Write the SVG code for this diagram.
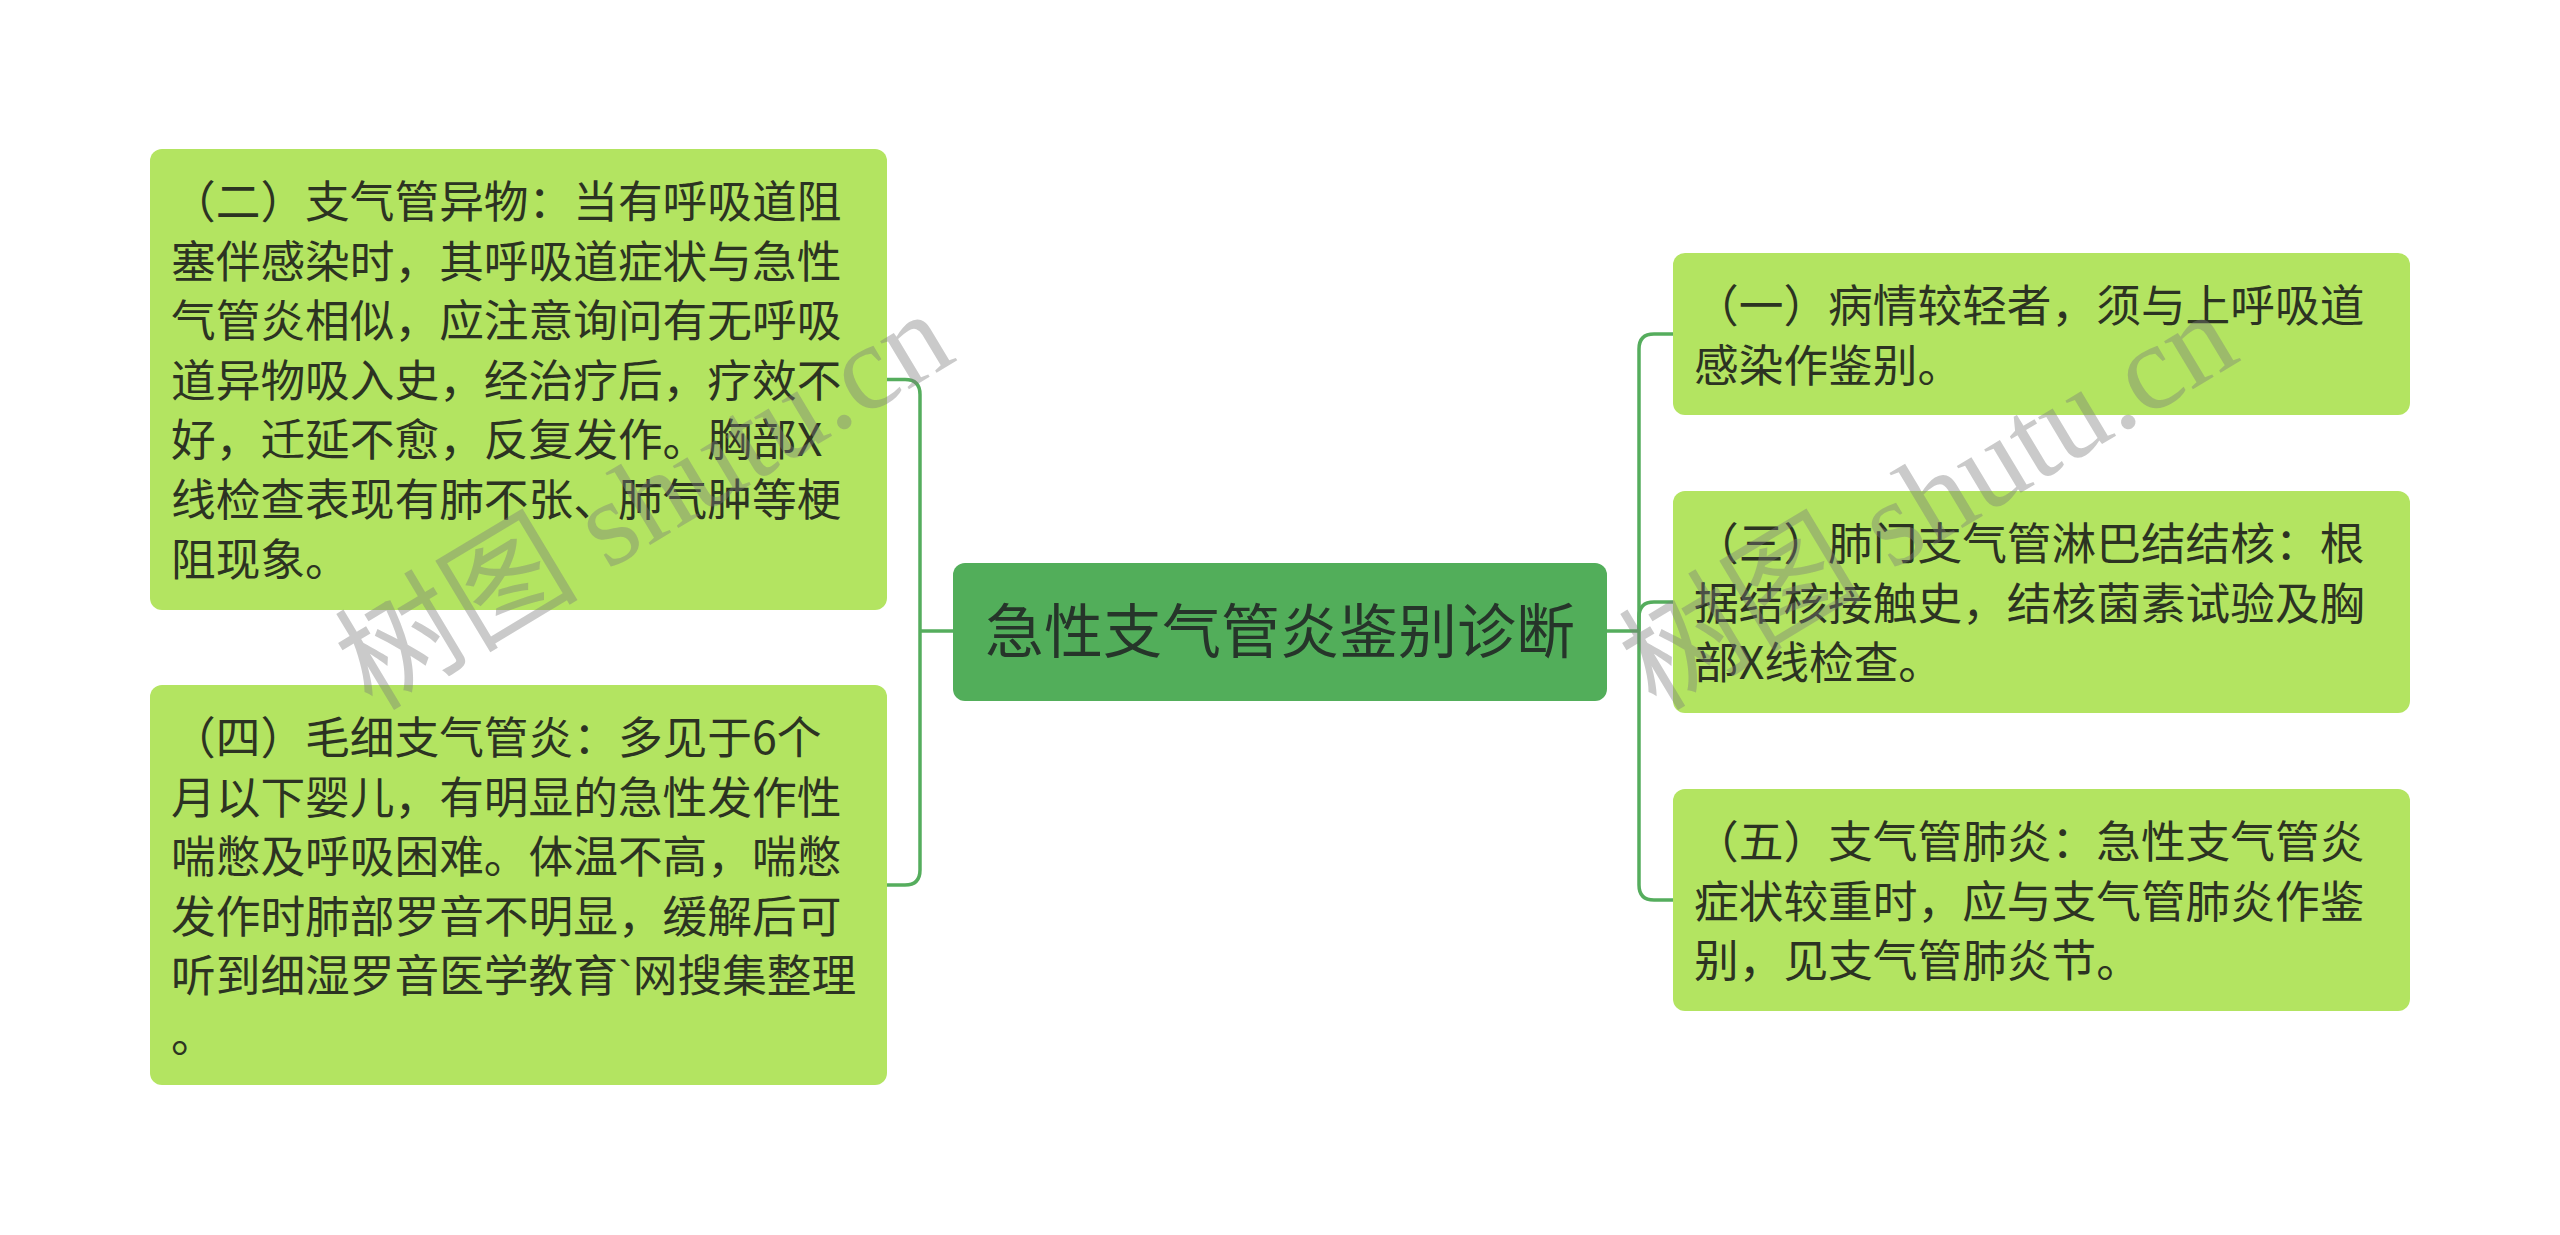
<svg xmlns="http://www.w3.org/2000/svg" width="2560" height="1235" viewBox="0 0 2560 1235">
<style>
.leaf{fill:#b3e461;}
.root{fill:#52ae5a;}
.lt{font-family:"Noto Sans CJK SC","Noto Sans",sans-serif;font-size:44.7px;fill:#2c3322;}
.rt{font-family:"Noto Sans CJK SC","Noto Sans",sans-serif;font-size:59px;fill:#26352a;}
.conn{fill:none;stroke:#55ad5d;stroke-width:3.5;}
.wm{font-family:"Liberation Serif","Noto Sans CJK SC",serif;font-size:122px;fill:#7a7a7a;fill-opacity:0.4;}
.bt{font-family:"Liberation Sans",sans-serif;}
</style>
<rect width="2560" height="1235" fill="#ffffff"/>
<g id="connectors">
<path class="conn" d="M953 631 H920"/>
<path class="conn" d="M920 631 V394.5 Q920 379.5 905 379.5 H887"/>
<path class="conn" d="M920 631 V870 Q920 885 905 885 H887"/>
<path class="conn" d="M1607 631 H1639"/>
<path class="conn" d="M1639 631 V349 Q1639 334 1654 334 H1673"/>
<path class="conn" d="M1639 631 V617 Q1639 602 1654 602 H1673"/>
<path class="conn" d="M1639 631 V885 Q1639 900 1654 900 H1673"/>
</g>
<g id="root">
<rect class="root" x="953" y="563" width="654" height="138" rx="12"/>
<text class="rt" x="1280" y="653" text-anchor="middle">急性支气管炎鉴别诊断</text>
</g>
<g id="node-2">
<rect class="leaf" x="150" y="149" width="737" height="461" rx="12"/>
<text class="lt" x="171" y="218">
<tspan x="171">（二）支气管异物：当有呼吸道阻</tspan>
<tspan x="171" dy="59.6">塞伴感染时，其呼吸道症状与急性</tspan>
<tspan x="171" dy="59.6">气管炎相似，应注意询问有无呼吸</tspan>
<tspan x="171" dy="59.6">道异物吸入史，经治疗后，疗效不</tspan>
<tspan x="171" dy="59.6">好，迁延不愈，反复发作。胸部X</tspan>
<tspan x="171" dy="59.6">线检查表现有肺不张、肺气肿等梗</tspan>
<tspan x="171" dy="59.6">阻现象。</tspan>
</text>
</g>
<g id="node-4">
<rect class="leaf" x="150" y="685" width="737" height="400" rx="12"/>
<text class="lt" x="171" y="754">
<tspan x="171">（四）毛细支气管炎：多见于6个</tspan>
<tspan x="171" dy="59.6">月以下婴儿，有明显的急性发作性</tspan>
<tspan x="171" dy="59.6">喘憋及呼吸困难。体温不高，喘憋</tspan>
<tspan x="171" dy="59.6">发作时肺部罗音不明显，缓解后可</tspan>
<tspan x="171" dy="59.6">听到细湿罗音医学教育<tspan class="bt">`</tspan>网搜集整理</tspan>
<tspan x="171" dy="59.6">。</tspan>
</text>
</g>
<g id="node-1">
<rect class="leaf" x="1673" y="253" width="737" height="162" rx="12"/>
<text class="lt" x="1694" y="322">
<tspan x="1694">（一）病情较轻者，须与上呼吸道</tspan>
<tspan x="1694" dy="59.6">感染作鉴别。</tspan>
</text>
</g>
<g id="node-3">
<rect class="leaf" x="1673" y="491" width="737" height="222" rx="12"/>
<text class="lt" x="1694" y="560">
<tspan x="1694">（三）肺门支气管淋巴结结核：根</tspan>
<tspan x="1694" dy="59.6">据结核接触史，结核菌素试验及胸</tspan>
<tspan x="1694" dy="59.6">部X线检查。</tspan>
</text>
</g>
<g id="node-5">
<rect class="leaf" x="1673" y="789" width="737" height="222" rx="12"/>
<text class="lt" x="1694" y="858">
<tspan x="1694">（五）支气管肺炎：急性支气管炎</tspan>
<tspan x="1694" dy="59.6">症状较重时，应与支气管肺炎作鉴</tspan>
<tspan x="1694" dy="59.6">别，见支气管肺炎节。</tspan>
</text>
</g>
<g id="watermarks">
<text class="wm" x="0" y="0" transform="translate(372 712) rotate(-31)">树图 shutu.cn</text>
<text class="wm" x="0" y="0" transform="translate(1656 712) rotate(-31)">树图 shutu.cn</text>
</g>
</svg>
